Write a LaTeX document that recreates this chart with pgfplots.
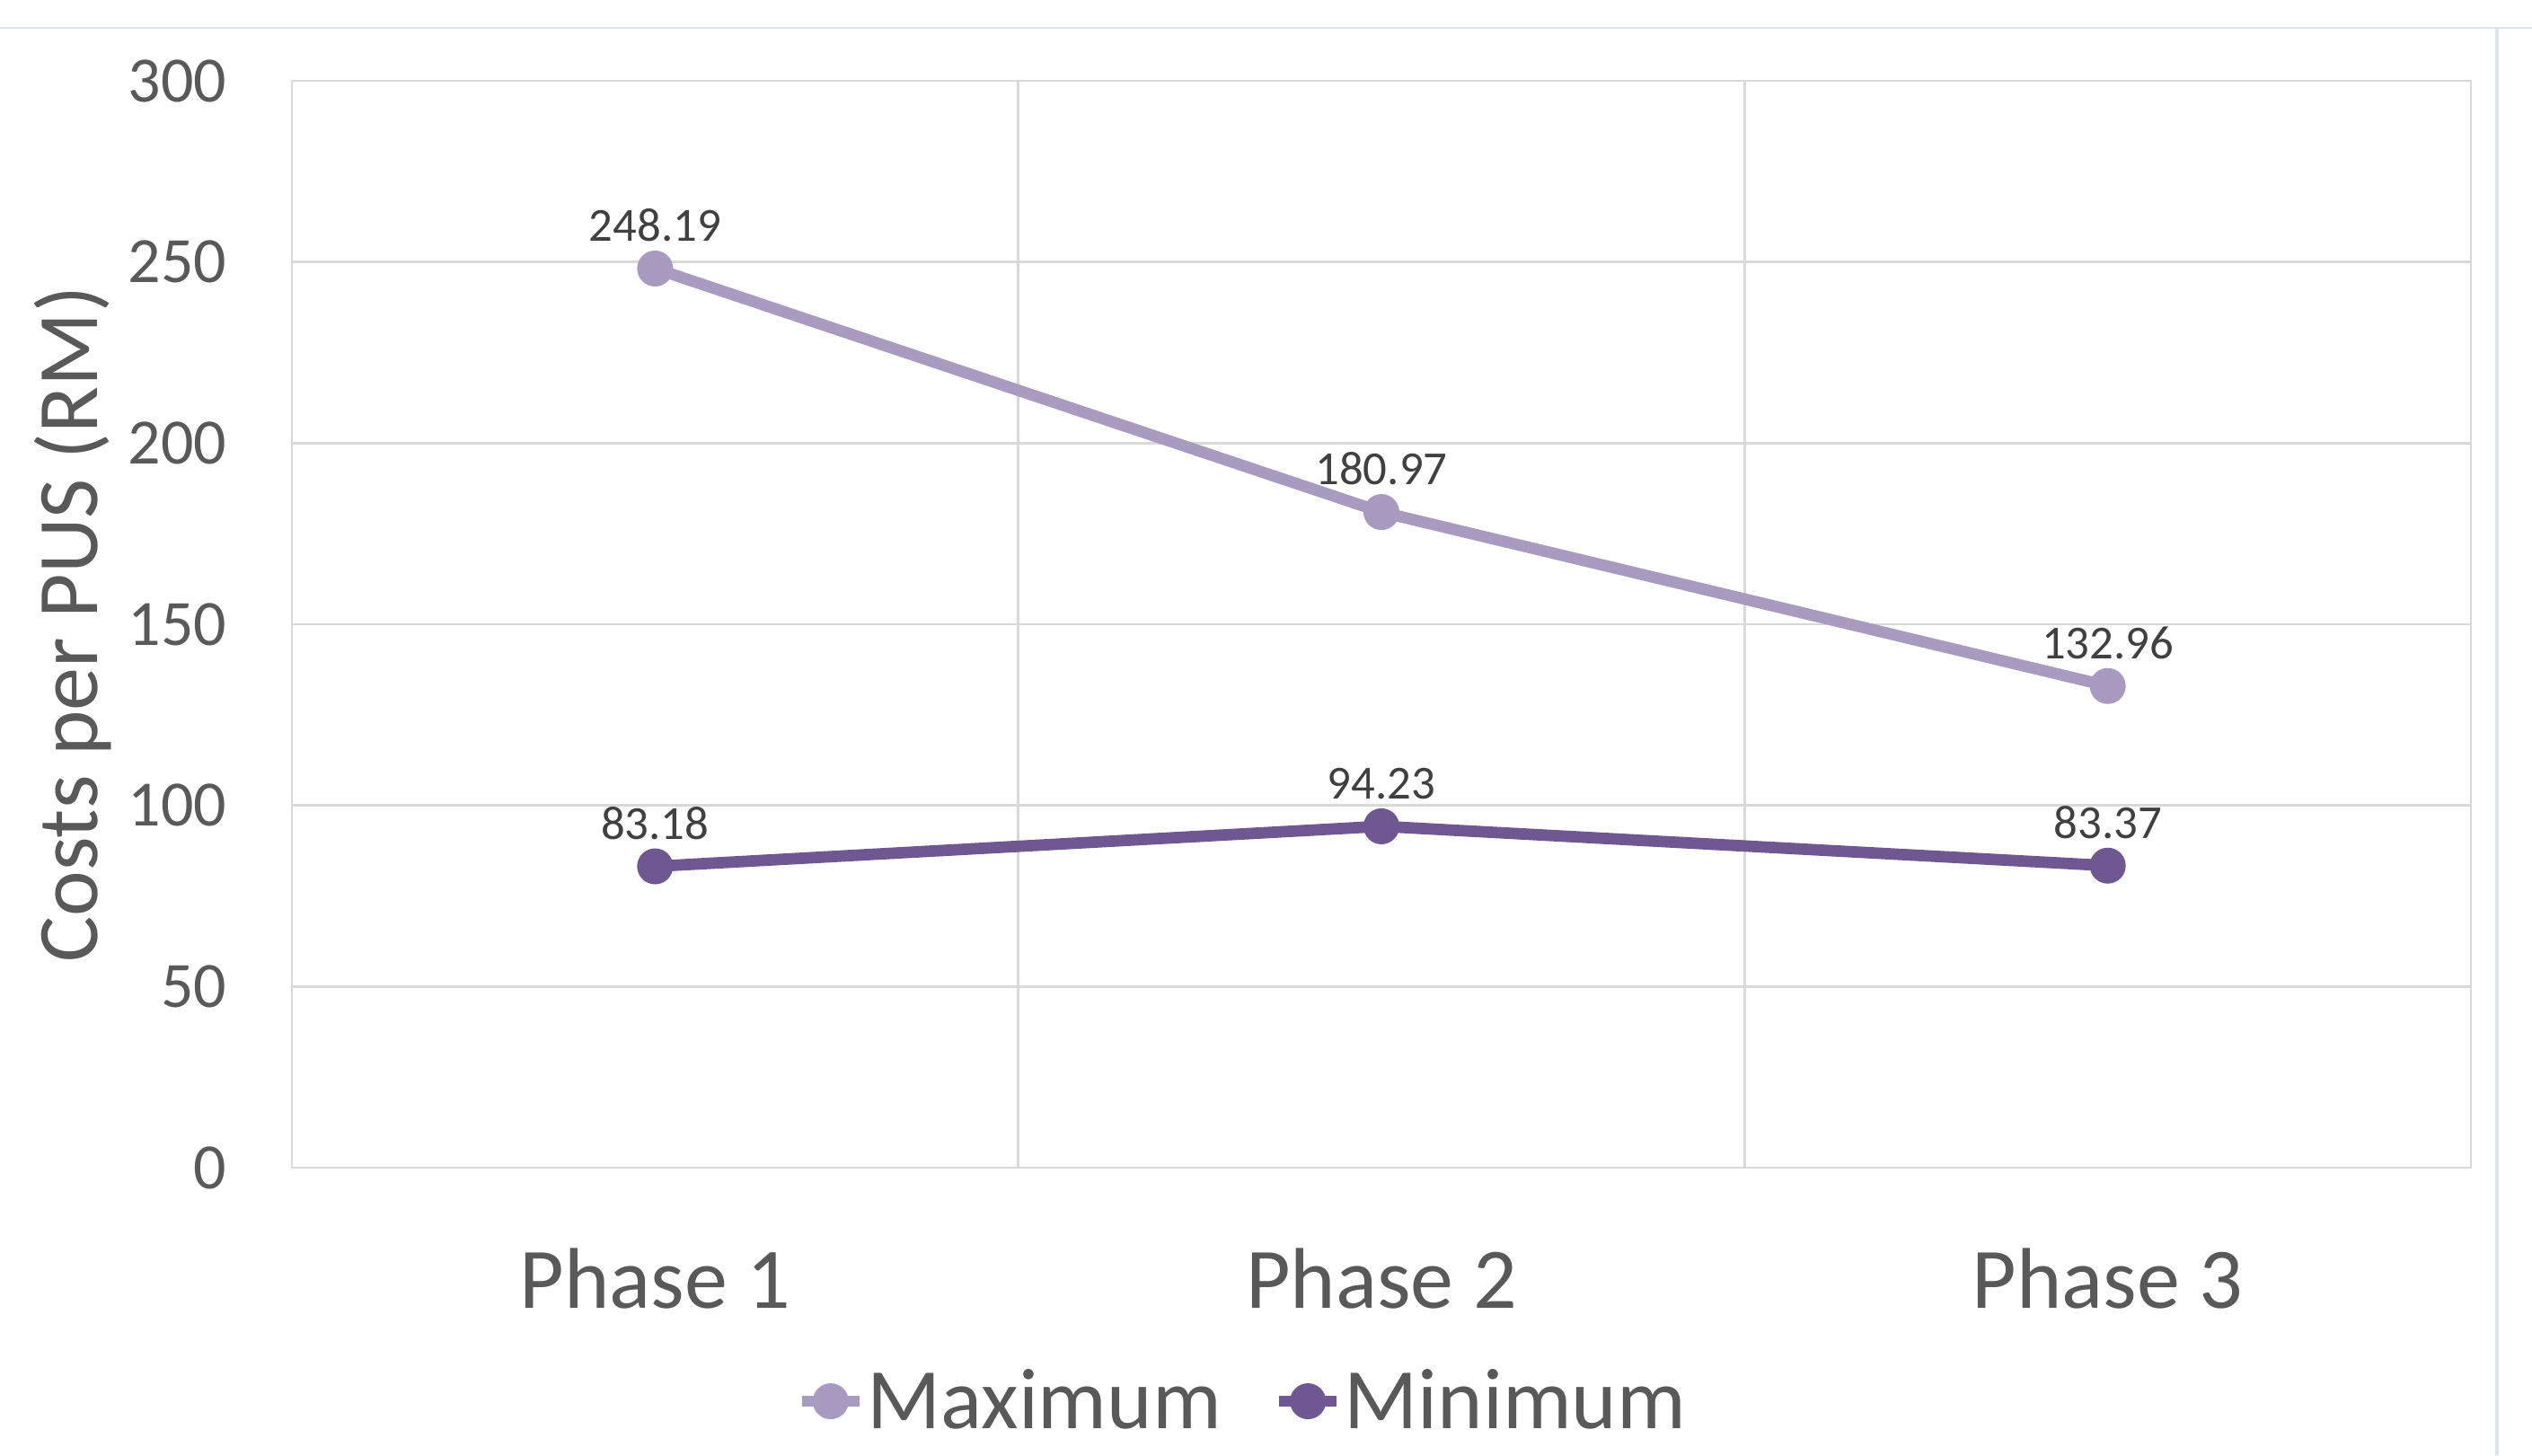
\documentclass[border=0pt]{standalone}
\usepackage{fontspec}
\setmainfont{Carlito}
\usepackage{pgfplots}
\pgfplotsset{compat=1.18}
\definecolor{maxc}{HTML}{A99BC0}
\definecolor{minc}{HTML}{6F5891}
\definecolor{gridc}{HTML}{D9D9D9}
\definecolor{txt}{HTML}{595959}
\definecolor{lbl}{HTML}{404040}
\definecolor{frame}{HTML}{DAE3F3}
\begin{document}
\begin{tikzpicture}
\useasboundingbox (-81.25pt,-80pt) rectangle (623.5pt,325pt);
\draw[frame, line width=0.6pt] (-81.25pt,317.25pt) -- (623.5pt,317.25pt);
\draw[frame, line width=0.8pt] (613.75pt,-80pt) -- (613.75pt,317.25pt);
\begin{axis}[
  scale only axis, width=606.5pt, height=302.5pt,
  xmin=0.5, xmax=3.5, ymin=0, ymax=300,
  xtick={1,2,3}, xticklabels={Phase 1,Phase 2,Phase 3},
  minor xtick={1.5,2.5},
  ytick={0,50,...,300},
  ymajorgrids, xminorgrids,
  grid style={draw=gridc, line width=0.6pt},
  minor grid style={draw=gridc, line width=0.6pt},
  axis line style={draw=gridc, line width=0.6pt},
  major tick length=0pt, minor tick length=0pt,
  tick style={draw=none},
  /pgf/number format/assume math mode=true,
  yticklabel style={font=\fontsize{18}{18}\selectfont, text=txt, anchor=east, inner sep=0pt, xshift=-18pt},
  xticklabel style={font=\fontsize{24}{24}\selectfont, text=txt, anchor=base, inner sep=0pt, yshift=-39pt},
  ylabel={Costs per PUS (RM)},
  ylabel style={font=\fontsize{24}{24}\selectfont, text=txt, at={(axis description cs:-0.1006,0.5)}, anchor=center},
  legend style={draw=none, fill=none, legend columns=2, font=\fontsize{24}{24}\selectfont, text=txt,
    at={(axis description cs:0.436,-0.2149)}, anchor=center, inner sep=0pt,
    nodes={inner sep=0.5pt},
    /tikz/every even column/.append style={column sep=14pt}},
  legend cell align=left,
  legend image code/.code={\draw[mark repeat=2,mark phase=2,#1] plot coordinates {(0pt,0pt) (8pt,0pt) (16pt,0pt)};},
  nodes near coords={\pgfmathprintnumber[fixed,fixed zerofill,precision=2,assume math mode=true]{\pgfplotspointmeta}},
  every node near coord/.append style={font=\fontsize{13.2}{13.2}\selectfont, text=lbl, anchor=base, inner sep=0pt, yshift=7.6pt},
]
\addplot[maxc, line width=3.2pt, mark=*, mark size=4.8pt, mark options={solid, line width=0.4pt, fill=maxc, draw=maxc}]
  coordinates {(1,248.19) (2,180.97) (3,132.96)};
\addlegendentry{Maximum}
\addplot[minc, line width=3.2pt, mark=*, mark size=4.8pt, mark options={solid, line width=0.4pt, fill=minc, draw=minc}]
  coordinates {(1,83.18) (2,94.23) (3,83.37)};
\addlegendentry{Minimum}
\end{axis}
\end{tikzpicture}
\end{document}
